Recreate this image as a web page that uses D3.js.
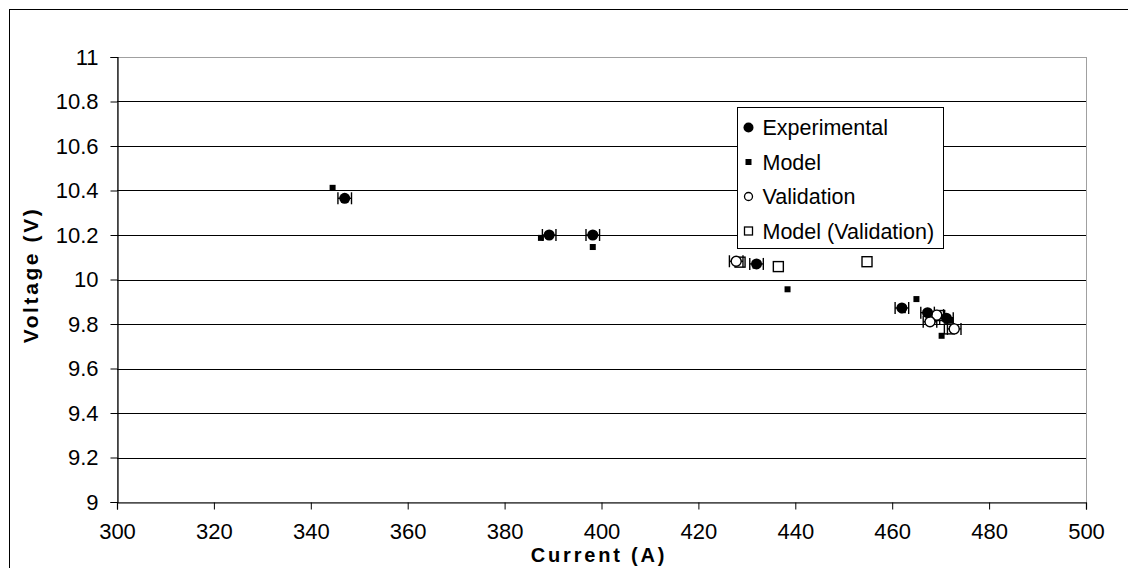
<!DOCTYPE html>
<html>
<head>
<meta charset="utf-8">
<script src="https://cdn.jsdelivr.net/npm/d3@7"></script>
<style>
  html, body { margin: 0; padding: 0; background: #fff; }
  svg { display: block; font-family: "Liberation Sans", Arial, sans-serif; }
</style>
</head>
<body>
<svg id="chart" width="1128" height="568"></svg>
<script>
// Measured operating points: current (A) vs stack voltage (V)
const experimental = [
  [347.0, 10.365], [389.2, 10.20], [398.2, 10.20], [432.0, 10.07],
  [462.0, 9.872], [467.3, 9.851], [471.2, 9.826]
];
const model = [
  [344.5, 10.412], [387.5, 10.187], [398.2, 10.146], [431.8, 10.062],
  [438.4, 9.956], [462.2, 9.862], [465.0, 9.912], [470.2, 9.747], [472.0, 9.818]
];
const validation = [
  [427.8, 10.082], [469.2, 9.840], [467.8, 9.810], [472.8, 9.778]
];
const modelValidation = [
  [428.6, 10.078], [436.5, 10.058], [454.8, 10.080], [471.8, 9.778], [469.8, 9.838]
];
// Half-width of the current measurement error bars (A)
const currentError = 1.4;

const xTicks = [300, 320, 340, 360, 380, 400, 420, 440, 460, 480, 500];
const yTicks = [9, 9.2, 9.4, 9.6, 9.8, 10, 10.2, 10.4, 10.6, 10.8, 11];
const seriesNames = ["Experimental", "Model", "Validation", "Model (Validation)"];

const svg = d3.select("#chart");
const plot = { left: 117, top: 57, right: 1086, bottom: 502 };

const x = d3.scaleLinear().domain([300, 500]).range([plot.left, plot.right]);
const y = d3.scaleLinear().domain([9, 11]).range([plot.bottom, plot.top]);

// Outer chart frame
svg.append("rect")
  .attr("x", 9.5).attr("y", 9.5).attr("width", 1140).attr("height", 580)
  .attr("fill", "#fff").attr("stroke", "#000").attr("stroke-width", 1);

// Plot area frame (light grey top/right)
svg.append("rect")
  .attr("x", plot.left + 0.5).attr("y", plot.top + 0.5)
  .attr("width", plot.right - plot.left).attr("height", plot.bottom - plot.top)
  .attr("fill", "#fff").attr("stroke", "#a0a0a0").attr("stroke-width", 1);

// Horizontal gridlines
svg.append("g").selectAll("line")
  .data(yTicks.filter(t => t > 9 && t < 11))
  .join("line")
  .attr("x1", plot.left).attr("x2", plot.right)
  .attr("y1", d => Math.round(y(d)) + 0.5).attr("y2", d => Math.round(y(d)) + 0.5)
  .attr("stroke", "#000").attr("stroke-width", 1);

// Axes
const yAxis = d3.axisLeft(y).tickValues(yTicks).tickSize(7).tickPadding(12)
  .tickFormat(d => d3.format("")(+d.toFixed(1)));
const xAxis = d3.axisBottom(x).tickValues(xTicks).tickSize(7).tickPadding(14)
  .tickFormat(d3.format("d"));

const gy = svg.append("g").attr("transform", `translate(${plot.left + 0.5},0)`).call(yAxis);
const gx = svg.append("g").attr("transform", `translate(0,${plot.bottom + 0.5})`).call(xAxis);
[gx, gy].forEach(g => {
  g.selectAll("path.domain").attr("stroke", "#000").attr("stroke-width", 1.2);
  g.selectAll(".tick line").attr("stroke", "#000");
  g.selectAll(".tick text").attr("font-size", 22).attr("fill", "#000")
    .attr("font-family", "'Liberation Sans', Arial, sans-serif");
});

// Axis titles
svg.append("text")
  .attr("x", 599).attr("y", 562).attr("text-anchor", "middle")
  .attr("font-size", 20).attr("font-weight", "bold").attr("letter-spacing", 2.8)
  .text("Current (A)");
svg.append("text")
  .attr("transform", "translate(38,275) rotate(-90)").attr("text-anchor", "middle")
  .attr("font-size", 21).attr("font-weight", "bold").attr("letter-spacing", 2.6)
  .text("Voltage (V)");

// Error bars helper
function errorBars(data) {
  const g = svg.append("g").attr("stroke", "#000").attr("stroke-width", 1.4);
  data.forEach(([cx, cy]) => {
    const x0 = x(cx - currentError), x1 = x(cx + currentError), py = y(cy);
    g.append("line").attr("x1", x0).attr("x2", x1).attr("y1", py).attr("y2", py);
    g.append("line").attr("x1", x0).attr("x2", x0).attr("y1", py - 6).attr("y2", py + 6);
    g.append("line").attr("x1", x1).attr("x2", x1).attr("y1", py - 6).attr("y2", py + 6);
  });
}

errorBars(validation);
errorBars(experimental);

// Model (Validation): open squares
svg.append("g").selectAll("rect")
  .data(modelValidation).join("rect")
  .attr("x", d => x(d[0]) - 5).attr("y", d => y(d[1]) - 5)
  .attr("width", 10).attr("height", 10)
  .attr("fill", "none").attr("stroke", "#000").attr("stroke-width", 1.4);

// Validation: open circles
svg.append("g").selectAll("circle")
  .data(validation).join("circle")
  .attr("cx", d => x(d[0])).attr("cy", d => y(d[1])).attr("r", 5)
  .attr("fill", "#fff").attr("stroke", "#000").attr("stroke-width", 1.4);

// Experimental: filled circles
svg.append("g").selectAll("circle")
  .data(experimental).join("circle")
  .attr("cx", d => x(d[0])).attr("cy", d => y(d[1])).attr("r", 5.5)
  .attr("fill", "#000");

// Model: small filled squares
svg.append("g").selectAll("rect")
  .data(model).join("rect")
  .attr("x", d => x(d[0]) - 3).attr("y", d => y(d[1]) - 3)
  .attr("width", 6).attr("height", 6).attr("fill", "#000");

// Legend
const legend = svg.append("g").attr("transform", "translate(737.5,107.5)");
legend.append("rect").attr("width", 206).attr("height", 141)
  .attr("fill", "#fff").attr("stroke", "#000").attr("stroke-width", 1);
const rowY = i => 20 + i * 34.5;
seriesNames.forEach((name, i) => {
  const cy = rowY(i), mx = 11;
  if (i === 0) legend.append("circle").attr("cx", mx).attr("cy", cy).attr("r", 5).attr("fill", "#000");
  if (i === 1) legend.append("rect").attr("x", mx - 3).attr("y", cy - 3).attr("width", 6).attr("height", 6).attr("fill", "#000");
  if (i === 2) legend.append("circle").attr("cx", mx).attr("cy", cy).attr("r", 4).attr("fill", "none").attr("stroke", "#000").attr("stroke-width", 1.3);
  if (i === 3) legend.append("rect").attr("x", mx - 4).attr("y", cy - 4).attr("width", 8).attr("height", 8).attr("fill", "none").attr("stroke", "#000").attr("stroke-width", 1.3);
  legend.append("text").attr("x", 25).attr("y", cy + 7.5)
    .attr("font-size", 21.5).attr("fill", "#000").text(name);
});
</script>
</body>
</html>
